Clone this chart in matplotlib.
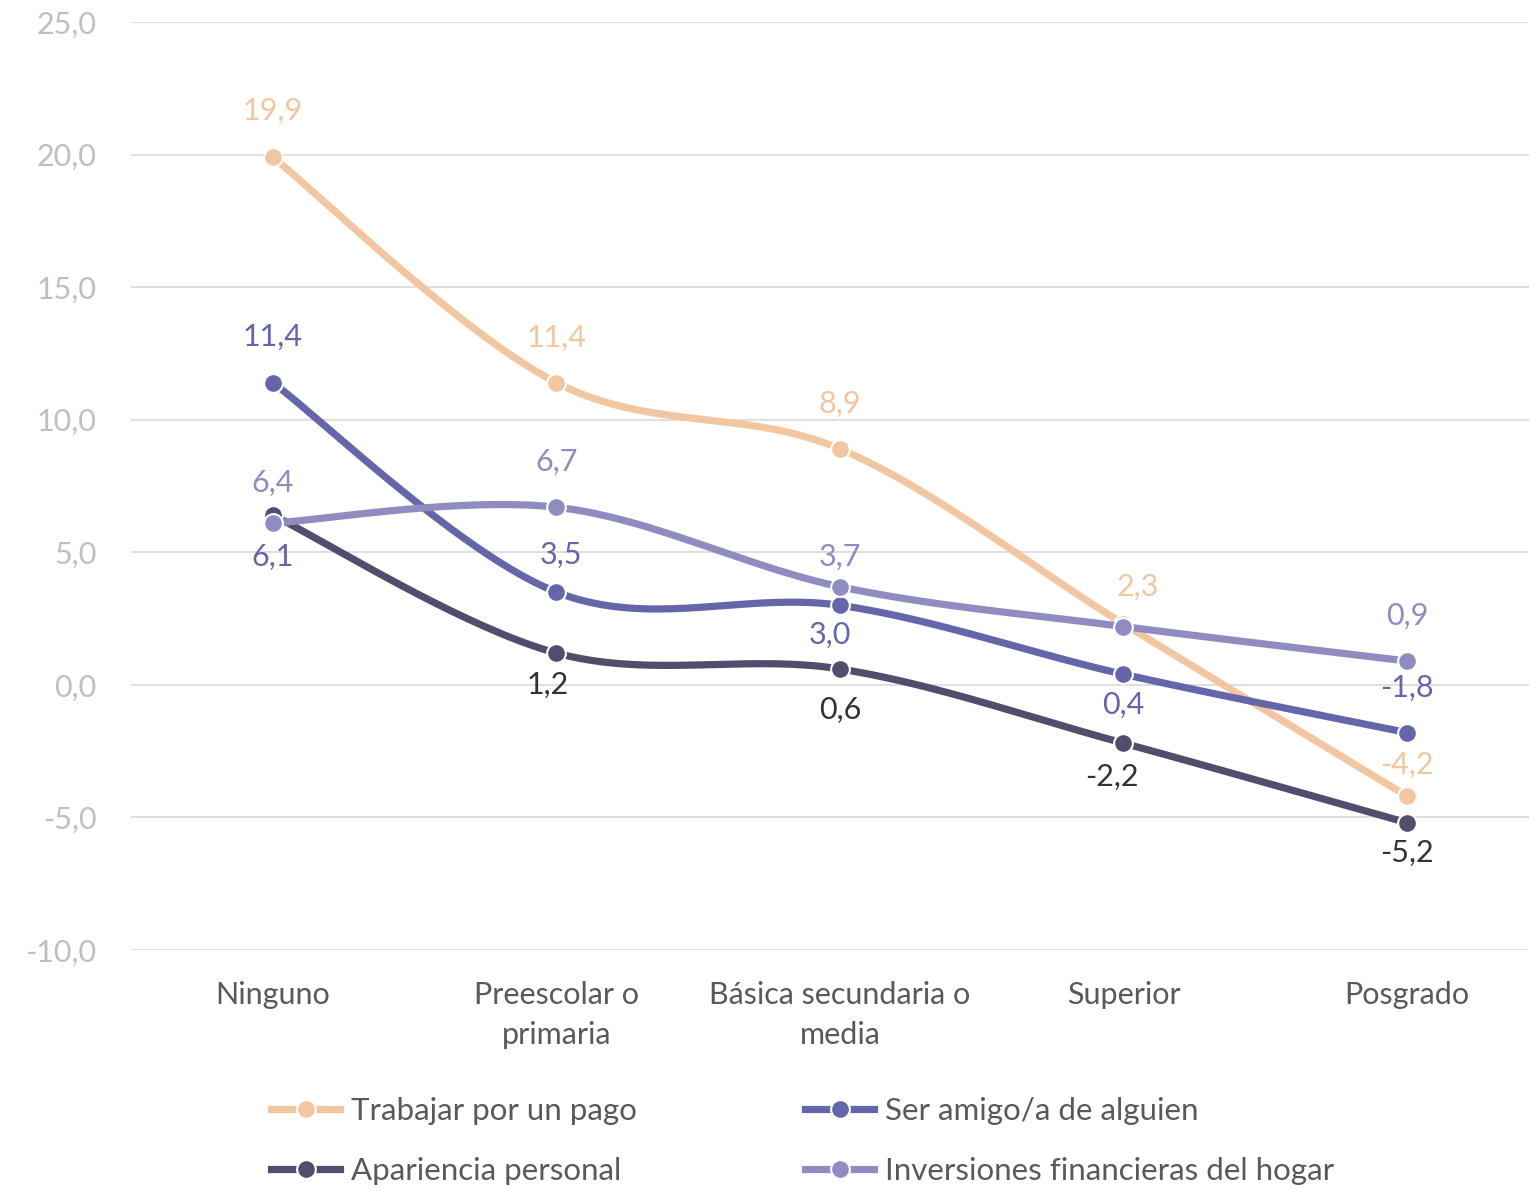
import numpy as np
import matplotlib.pyplot as plt
plt.switch_backend('agg')

plt.rcParams['font.family'] = ['Lato', 'DejaVu Sans']

categories = ['Ninguno', 'Preescolar o\nprimaria', 'Básica secundaria o\nmedia', 'Superior', 'Posgrado']
trabajar = [19.9, 11.4, 8.9, 2.3, -4.2]
amigo = [11.4, 3.5, 3.0, 0.4, -1.8]
apariencia = [6.4, 1.2, 0.6, -2.2, -5.2]
inversiones = [6.1, 6.7, 3.7, 2.2, 0.9]
series_names = ['Trabajar por un pago', 'Ser amigo/a de alguien',
                'Apariencia personal', 'Inversiones financieras del hogar']
y_ticks = [-10, -5, 0, 5, 10, 15, 20, 25]

colors = ['#F2C6A0', '#6466A9', '#554C6D', '#8E8CC1']
label_colors = ['#F2C6A0', '#6466A9', '#333333', '#8E8CC1']

# label offsets in pixels (dx, dy); None = no label
label_pos = [
    [(0, 46), (0, 45), (0, 45), (14, 37), (0, 31)],
    [(0, 46), (5, 37), (-10, -29), (0, -31), (0, 45)],
    [(0, 32), (-9, -32), (0, -41), (-12, -34), (0, -30)],
    [(0, -34), (0, 45), (0, 30), None, (0, 45)],
]
# Ninguno labels: shown with swapped colours in the original
label_color_override = {(2, 0): '#8E8CC1', (3, 0): '#6466A9'}


def smooth(x, y, n=40):
    # Catmull-Rom spline through the points (Excel "smoothed line")
    p = np.column_stack([x, y]).astype(float)
    p = np.vstack([p[0], p, p[-1]])
    out = []
    for i in range(1, len(p) - 2):
        p0, p1, p2, p3 = p[i - 1], p[i], p[i + 1], p[i + 2]
        t = np.linspace(0, 1, n)[:, None]
        seg = 0.5 * ((2 * p1) + (-p0 + p2) * t + (2 * p0 - 5 * p1 + 4 * p2 - p3) * t ** 2
                     + (-p0 + 3 * p1 - 3 * p2 + p3) * t ** 3)
        out.append(seg)
    s = np.vstack(out)
    return s[:, 0], s[:, 1]


fig = plt.figure(figsize=(15.29, 11.9), dpi=100)
ax = fig.add_axes([131 / 1529, 240 / 1190, 1 - 131 / 1529, 928 / 1190])

x = np.arange(len(categories))
all_series = [trabajar, amigo, apariencia, inversiones]
draw_order = [2, 1, 0, 3]
for k in draw_order:
    vals = all_series[k]
    sx, sy = smooth(x, vals)
    ax.plot(sx, sy, color=colors[k], lw=5.2, solid_capstyle='round', zorder=3 + k * 0.1)
    ax.plot(x, vals, 'o', color=colors[k], ms=13.5, mec='white', mew=1.5, zorder=3.05 + k * 0.1)

for k, vals in enumerate(all_series):
    for i, v in enumerate(vals):
        pos = label_pos[k][i]
        if pos is None:
            continue
        c = label_color_override.get((k, i), label_colors[k])
        ax.annotate(f'{v:.1f}'.replace('.', ','), (x[i], v), xytext=pos,
                    textcoords='offset pixels', ha='center', va='center',
                    fontsize=22, color=c, zorder=6)

# legend handles
for k in range(4):
    ax.plot([], [], '-o', color=colors[k], lw=5.2, ms=13.5, mec='white', mew=1.5,
            label=series_names[k])
handles, labels = ax.get_legend_handles_labels()
order = [0, 2, 1, 3]
leg = fig.legend([handles[i] for i in order], [labels[i] for i in order],
                 loc='center left', bbox_to_anchor=(243 / 1529, 1 - 1141 / 1190), ncol=2,
                 frameon=False, fontsize=22.5, handlelength=2.2, handletextpad=0.35,
                 columnspacing=5.4, labelspacing=1.05, labelcolor='#595959')

ax.set_xlim(-0.5, 4.43)
ax.set_ylim(-10, 25)
ax.set_yticks(y_ticks)
ax.set_yticklabels([f'{t:.1f}'.replace('.', ',') for t in y_ticks])
ax.set_xticks(x)
ax.set_xticklabels(categories, linespacing=1.56)
ax.tick_params(axis='y', length=0, pad=25, labelsize=22, labelcolor='#BFBFBF')
ax.tick_params(axis='x', length=0, pad=22, labelsize=22, labelcolor='#595959')
for lab in ax.get_yticklabels():
    lab.set_va('center_baseline')
ax.grid(axis='y', color='#D9D9D9', lw=1.2)
for s in ax.spines.values():
    s.set_visible(False)
ax.set_axisbelow(True)

fig.savefig('out.png', dpi=100)
